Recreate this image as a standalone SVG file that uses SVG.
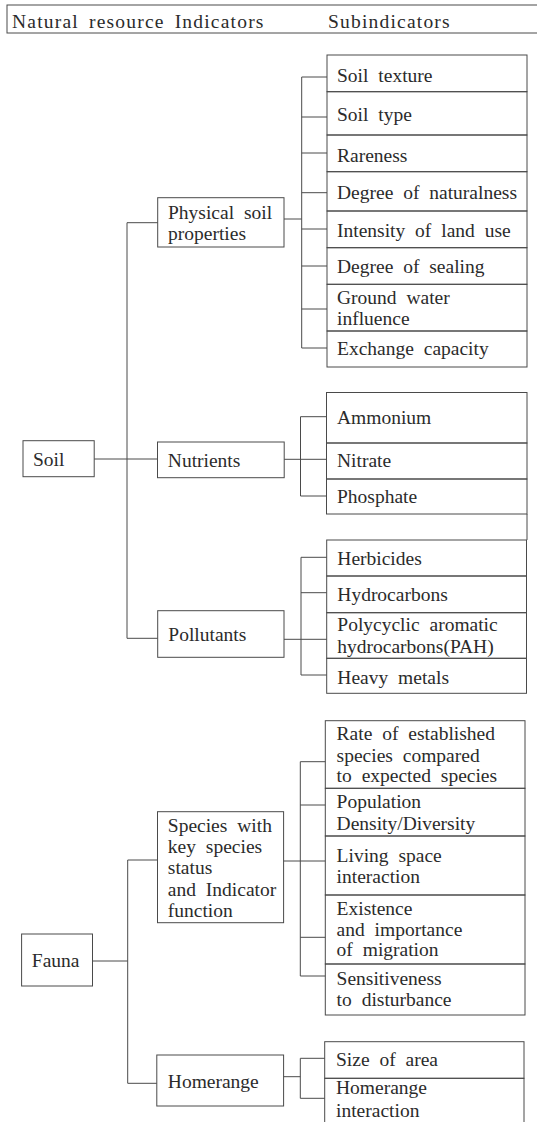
<svg xmlns="http://www.w3.org/2000/svg" width="537" height="1122" viewBox="0 0 537 1122">
<style>
.b{fill:none;stroke:#4a4a4a;stroke-width:1}
.l{fill:none;stroke:#4a4a4a;stroke-width:1}
</style>
<rect x="0" y="0" width="537" height="1122" fill="#ffffff"/>
<g id="header" font-family="Liberation Serif" font-size="19.5" fill="#2b2b2b" letter-spacing="1.2" word-spacing="4">
<rect class="b" x="7" y="5" width="536" height="28"/>
<text x="12" y="28" font-family="Liberation Serif">Natural resource Indicators</text>
<text x="328" y="28" font-family="Liberation Serif">Subindicators</text>
</g>
<g id="connectors">
<path class="l" d="M157.7,222.7 H127 V638.3 H157.7"/>
<path class="l" d="M94.2,459 H157.5"/>
<path class="l" d="M284,219 H301.7"/>
<path class="l" d="M327,77 H301.7 V348 H327"/>
<path class="l" d="M301.7,117 H327 M301.7,153 H327 M301.7,192.7 H327 M301.7,229 H327 M301.7,266 H327 M301.7,309 H327"/>
<path class="l" d="M284.2,459.3 H326.5"/>
<path class="l" d="M326.5,416.7 H300.5 V496 H326.5"/>
<path class="l" d="M284,639.3 H326.7"/>
<path class="l" d="M326.7,557.3 H301 V675 H326.7 M301,592.7 H326.7"/>
<path class="l" d="M92.5,961 H127.7"/>
<path class="l" d="M157.5,860 H127.7 V1083.3 H156.8"/>
<path class="l" d="M283.6,861 H325.3"/>
<path class="l" d="M325.3,761.7 H300.3 V976 H325.3 M300.3,805 H325.3 M300.3,937.3 H325.3"/>
<path class="l" d="M283.6,1076.7 H300.3"/>
<path class="l" d="M324.7,1058.3 H300.3 V1098.3 H324.7"/>
<path class="l" d="M527,514 V540"/>
</g>
<g id="nodes" font-family="Liberation Serif" font-size="19.5" fill="#2b2b2b" word-spacing="5">
<g id="soil">
<rect class="b" x="23" y="440.7" width="71.2" height="36"/>
<text font-family="Liberation Serif" x="33" y="466">Soil</text>
</g>
<g id="physical-soil-properties">
<rect class="b" x="157.7" y="197.7" width="126.3" height="49.3"/>
<text font-family="Liberation Serif" x="168" y="219">Physical soil</text>
<text font-family="Liberation Serif" x="168" y="240">properties</text>
</g>
<g id="nutrients">
<rect class="b" x="157.5" y="442" width="126.7" height="35.7"/>
<text font-family="Liberation Serif" x="167.8" y="466.7">Nutrients</text>
</g>
<g id="pollutants">
<rect class="b" x="157.7" y="610.7" width="126.3" height="46.6"/>
<text font-family="Liberation Serif" x="168.3" y="641">Pollutants</text>
</g>
<g id="soil-texture"><rect class="b" x="327" y="55" width="200" height="36.7"/><text font-family="Liberation Serif" x="337" y="82">Soil texture</text></g>
<g id="soil-type"><rect class="b" x="327" y="91.7" width="200" height="43.3"/><text font-family="Liberation Serif" x="337" y="121">Soil type</text></g>
<g id="rareness"><rect class="b" x="327" y="135" width="200" height="36.7"/><text font-family="Liberation Serif" x="337" y="162">Rareness</text></g>
<g id="degree-of-naturalness"><rect class="b" x="327" y="171.7" width="200" height="39.3"/><text font-family="Liberation Serif" x="337" y="199">Degree of naturalness</text></g>
<g id="intensity-of-land-use"><rect class="b" x="327" y="211" width="200" height="36.7"/><text font-family="Liberation Serif" x="337" y="237">Intensity of land use</text></g>
<g id="degree-of-sealing"><rect class="b" x="327" y="247.7" width="200" height="36.6"/><text font-family="Liberation Serif" x="337" y="273">Degree of sealing</text></g>
<g id="ground-water-influence"><rect class="b" x="327" y="284.3" width="200" height="46.7"/><text font-family="Liberation Serif" x="337" y="304">Ground water</text><text font-family="Liberation Serif" x="337" y="325">influence</text></g>
<g id="exchange-capacity"><rect class="b" x="327" y="331" width="200" height="36"/><text font-family="Liberation Serif" x="337" y="355">Exchange capacity</text></g>
<g id="ammonium"><rect class="b" x="326.5" y="392.5" width="200.5" height="50.5"/><text font-family="Liberation Serif" x="337" y="424">Ammonium</text></g>
<g id="nitrate"><rect class="b" x="326.5" y="443" width="200.5" height="36"/><text font-family="Liberation Serif" x="337" y="467">Nitrate</text></g>
<g id="phosphate"><rect class="b" x="326.5" y="479" width="200.5" height="35"/><text font-family="Liberation Serif" x="337" y="503">Phosphate</text></g>
<g id="herbicides"><rect class="b" x="326.7" y="540" width="199.8" height="36"/><text font-family="Liberation Serif" x="337.3" y="565">Herbicides</text></g>
<g id="hydrocarbons"><rect class="b" x="326.7" y="576" width="199.8" height="36.7"/><text font-family="Liberation Serif" x="337.3" y="601">Hydrocarbons</text></g>
<g id="pah"><rect class="b" x="326.7" y="612.7" width="199.8" height="45.6"/><text font-family="Liberation Serif" x="337.3" y="631">Polycyclic aromatic</text><text font-family="Liberation Serif" x="337.3" y="653">hydrocarbons(PAH)</text></g>
<g id="heavy-metals"><rect class="b" x="326.7" y="658.3" width="199.8" height="35"/><text font-family="Liberation Serif" x="337.3" y="684">Heavy metals</text></g>
<g id="fauna">
<rect class="b" x="21.6" y="934" width="70.9" height="52"/>
<text font-family="Liberation Serif" x="31.8" y="966.7">Fauna</text>
</g>
<g id="species-key-status">
<rect class="b" x="157.5" y="811.7" width="126.1" height="111"/>
<text font-family="Liberation Serif" x="167.8" y="831.7">Species with</text>
<text font-family="Liberation Serif" x="167.8" y="853.3">key species</text>
<text font-family="Liberation Serif" x="167.8" y="874">status</text>
<text font-family="Liberation Serif" x="167.8" y="896">and Indicator</text>
<text font-family="Liberation Serif" x="167.8" y="916.7">function</text>
</g>
<g id="homerange">
<rect class="b" x="156.8" y="1055" width="126.8" height="51"/>
<text font-family="Liberation Serif" x="167.8" y="1088.3">Homerange</text>
</g>
<g id="rate-established"><rect class="b" x="325.3" y="720.7" width="199.7" height="67.6"/><text font-family="Liberation Serif" x="336.6" y="740">Rate of established</text><text font-family="Liberation Serif" x="336.6" y="761.7">species compared</text><text font-family="Liberation Serif" x="336.6" y="781.7">to expected species</text></g>
<g id="population-density"><rect class="b" x="325.3" y="788.3" width="199.7" height="47.7"/><text font-family="Liberation Serif" x="336.6" y="808.3">Population</text><text font-family="Liberation Serif" x="336.6" y="830">Density/Diversity</text></g>
<g id="living-space"><rect class="b" x="325.3" y="836" width="199.7" height="59"/><text font-family="Liberation Serif" x="336.6" y="861.7">Living space</text><text font-family="Liberation Serif" x="336.6" y="882.7">interaction</text></g>
<g id="existence-migration"><rect class="b" x="325.3" y="895" width="199.7" height="69"/><text font-family="Liberation Serif" x="336.6" y="915">Existence</text><text font-family="Liberation Serif" x="336.6" y="936">and importance</text><text font-family="Liberation Serif" x="336.6" y="956">of migration</text></g>
<g id="sensitiveness"><rect class="b" x="325.3" y="964" width="199.7" height="51"/><text font-family="Liberation Serif" x="336.6" y="985">Sensitiveness</text><text font-family="Liberation Serif" x="336.6" y="1006">to disturbance</text></g>
<g id="size-of-area"><rect class="b" x="324.7" y="1041.7" width="199.3" height="36.6"/><text font-family="Liberation Serif" x="336" y="1065.7">Size of area</text></g>
<g id="homerange-interaction"><rect class="b" x="324.7" y="1078.3" width="199.3" height="60"/><text font-family="Liberation Serif" x="336" y="1094.3">Homerange</text><text font-family="Liberation Serif" x="336" y="1116.7">interaction</text></g>
</g>
</svg>
